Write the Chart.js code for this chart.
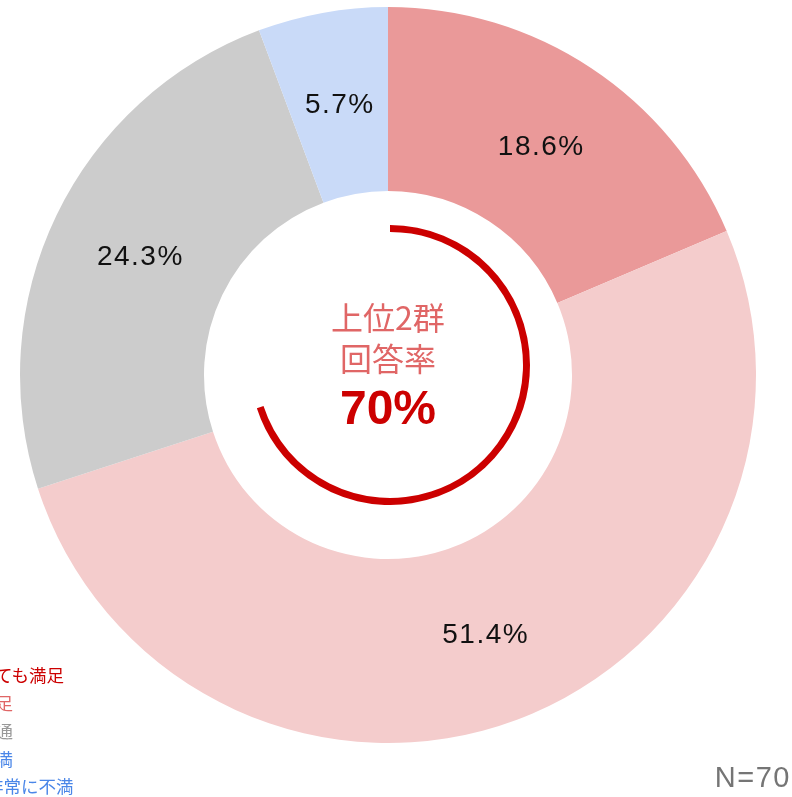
<!DOCTYPE html>
<html>
<head>
<meta charset="utf-8">
<script src="https://cdn.jsdelivr.net/npm/chart.js@4.4.1/dist/chart.umd.min.js"></script>
<style>
  html, body { margin: 0; padding: 0; background: #fff; overflow: hidden; }
  #wrap { position: relative; width: 792px; height: 797px; }
  #main { position: absolute; left: 0; top: 0; }
  #ring { position: absolute; left: 250px; top: 225px; }
  .center { position: absolute; left: 288px; width: 200px; text-align: center; white-space: nowrap; }
  .c1 { top: 297px; font: 32px "Noto Sans CJK JP", sans-serif; color: #e06666; line-height: 38px; }
  .c2 { top: 338px; font: 32px "Noto Sans CJK JP", sans-serif; color: #e06666; line-height: 38px; }
  .c3 { top: 380px; font: bold 48px "Liberation Sans", Arial, sans-serif; color: #cc0000; line-height: 56px; }
  .legend { position: absolute; font: 17.5px "Noto Sans CJK JP", sans-serif; line-height: 20px; white-space: nowrap; }
  #n { position: absolute; right: 1px; top: 761px; font: 29px "Liberation Sans", Arial, sans-serif; color: #757575; letter-spacing: 1.5px; }
</style>
</head>
<body>
<div id="wrap">
  <canvas id="main" width="792" height="797"></canvas>
  <canvas id="ring" width="280" height="280"></canvas>
  <div class="center c1">上位2群</div>
  <div class="center c2">回答率</div>
  <div class="center c3" id="rate"></div>
  <div id="legend"></div>
  <div id="n"></div>
</div>
<script>
const categories = ["とても満足", "満足", "普通", "不満", "非常に不満"];
const shares = [18.6, 51.4, 24.3, 5.7, 0];
const sliceColors = ["#ea9999", "#f4cccc", "#cccccc", "#c9daf8", "#a4c2f4"];
const legendColors = ["#cc0000", "#e06666", "#999999", "#4a86e8", "#4a86e8"];
const topTwoRate = 70;
const sampleSize = 70;

// legend is partly cut off at the left edge, like the original
const legendLeft = [-22, -22, -22, -22, -14];
const legendTop = [665, 693, 721, 749, 776];
document.getElementById("legend").innerHTML = categories.map((name, i) => `
  <div class="legend" style="left:${legendLeft[i]}px;top:${legendTop[i]}px;color:${legendColors[i]}">${name}</div>
`).join("");
document.getElementById("rate").textContent = `${topTwoRate}%`;
document.getElementById("n").textContent = `N=${sampleSize}`;

function createValueLabelPlugin() {
  return {
    id: "value-labels",
    afterDatasetsDraw(chart) {
      const { ctx } = chart;
      ctx.save();
      ctx.font = "28px 'Liberation Sans', Arial";
      ctx.letterSpacing = "1.5px";
      ctx.fillStyle = "#111";
      ctx.textAlign = "center";
      ctx.textBaseline = "middle";
      const meta = chart.getDatasetMeta(0);
      meta.data.forEach((arc, index) => {
        const value = shares[index];
        if (!value) return;
        const pos = arc.getCenterPoint();
        ctx.fillText(`${value.toFixed(1)}%`, pos.x + 1, pos.y + 2);
      });
      ctx.restore();
    },
  };
}

new Chart(document.getElementById("main"), {
  type: "doughnut",
  data: {
    labels: categories,
    datasets: [{
      data: shares,
      backgroundColor: sliceColors,
      borderWidth: 0,
      hoverOffset: 0,
    }],
  },
  options: {
    responsive: false,
    animation: false,
    events: [],
    cutout: "50%",
    layout: { padding: { left: 20, right: 36, top: 7, bottom: 54 } },
    plugins: { legend: { display: false }, tooltip: { enabled: false } },
  },
  plugins: [createValueLabelPlugin()],
});

new Chart(document.getElementById("ring"), {
  type: "doughnut",
  data: {
    labels: ["上位2群", "その他"],
    datasets: [{
      data: [topTwoRate, 100 - topTwoRate],
      backgroundColor: ["#cc0000", "rgba(0,0,0,0)"],
      borderWidth: 0,
      hoverOffset: 0,
    }],
  },
  options: {
    responsive: false,
    animation: false,
    events: [],
    cutout: "95%",
    plugins: { legend: { display: false }, tooltip: { enabled: false } },
  },
});
</script>
</body>
</html>
